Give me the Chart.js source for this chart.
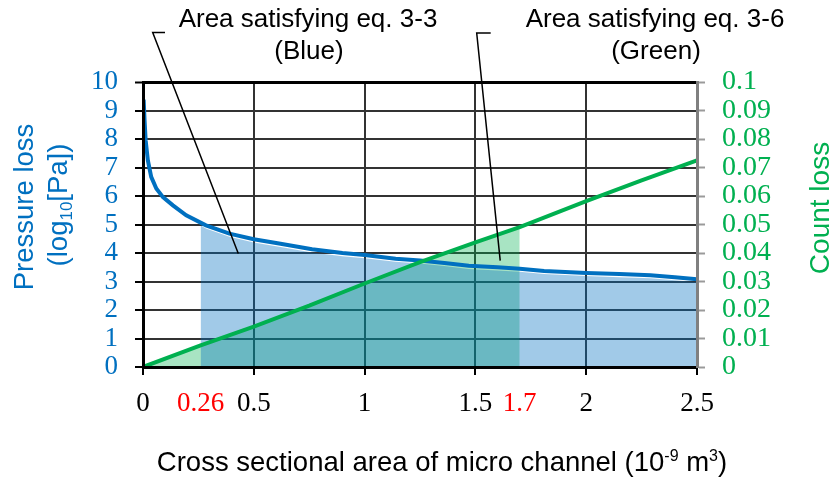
<!DOCTYPE html>
<html>
<head>
<meta charset="utf-8">
<script src="https://cdn.jsdelivr.net/npm/chart.js@4.4.1/dist/chart.umd.min.js"></script>
<style>
  html, body { margin: 0; padding: 0; background: #fff; }
  #wrap { width: 835px; height: 480px; position: relative; }
</style>
</head>
<body>
<div id="wrap"><canvas id="c" width="835" height="480"></canvas></div>
<script>
// Pressure loss (log10 Pa) against cross sectional area (1e-9 m^3)
const pressureX = [0.003, 0.007, 0.012, 0.022, 0.037, 0.06, 0.09, 0.135, 0.195, 0.284, 0.39, 0.5, 0.614, 0.763, 0.9, 1.0, 1.14, 1.25, 1.36, 1.47, 1.6, 1.7, 1.81, 2.0, 2.15, 2.29, 2.4, 2.5];
const pressureY = [9.38, 8.66, 7.95, 7.25, 6.67, 6.26, 5.96, 5.67, 5.32, 4.97, 4.68, 4.48, 4.33, 4.13, 4.0, 3.93, 3.80, 3.74, 3.65, 3.55, 3.50, 3.45, 3.37, 3.30, 3.26, 3.22, 3.15, 3.08];

// Region satisfying eq. 3-3 (0.26 to 2.5), upper edge of the shaded area
const blueAreaX = [0.26, 0.284, 0.39, 0.5, 0.614, 0.763, 0.9, 1.0, 1.14, 1.25, 1.36, 1.47, 1.6, 1.7, 1.81, 2.0, 2.15, 2.29, 2.4, 2.5];
const blueAreaY = [4.97, 4.86, 4.57, 4.37, 4.22, 4.02, 3.89, 3.82, 3.69, 3.63, 3.54, 3.44, 3.39, 3.34, 3.26, 3.19, 3.15, 3.11, 3.04, 2.98];

// Count loss against cross sectional area
const countX = [0, 0.26, 0.5, 0.75, 1.0, 1.25, 1.5, 1.7, 2.0, 2.25, 2.5];
const countY = [0, 0.0076, 0.0142, 0.0215, 0.0293, 0.0368, 0.0437, 0.0491, 0.0582, 0.0655, 0.0725];

// Region satisfying eq. 3-6 (0 to 1.7)
const greenAreaX = [0, 0.26, 0.5, 0.75, 1.0, 1.25, 1.5, 1.7];
const greenAreaY = [0, 0.0076, 0.0142, 0.0215, 0.0293, 0.0368, 0.0437, 0.0491];

// Tick labels
const xTicks = [0, 0.26, 0.5, 1, 1.5, 1.7, 2, 2.5];
const xMarked = [0.26, 1.7];
const pressureTicks = [0, 1, 2, 3, 4, 5, 6, 7, 8, 9, 10];
const countTicks = [0, 0.01, 0.02, 0.03, 0.04, 0.05, 0.06, 0.07, 0.08, 0.09, 0.1];

const BLUE = '#0070C0';
const GREEN = '#00B050';
const SERIF = '"Liberation Serif", "Times New Roman", serif';
const SANS = '"Liberation Sans", Arial, sans-serif';

const pts = (xs, ys) => xs.map((x, i) => ({ x: x, y: ys[i] }));
const isMarked = v => xMarked.some(m => Math.abs(m - v) < 1e-9);

// Axis titles and callouts drawn on the canvas
const decorations = {
  id: 'decorations',
  afterDraw(chart) {
    const ctx = chart.ctx;
    const xs = chart.scales.x;
    const y1 = chart.scales.y;
    ctx.save();

    // callout texts
    ctx.fillStyle = '#000';
    ctx.font = '26px ' + SANS;
    ctx.textAlign = 'center';
    ctx.textBaseline = 'alphabetic';
    ctx.fillText('Area satisfying eq. 3-3', 308, 27);
    ctx.fillText('(Blue)', 309, 59);
    ctx.fillText('Area satisfying eq. 3-6', 655, 27);
    ctx.fillText('(Green)', 656, 59);

    // leader lines into the shaded areas
    ctx.strokeStyle = '#000';
    ctx.lineWidth = 1.5;
    ctx.beginPath();
    ctx.moveTo(165, 32.5);
    ctx.lineTo(152.7, 32.5);
    ctx.lineTo(xs.getPixelForValue(0.43), y1.getPixelForValue(3.98));
    ctx.stroke();
    ctx.beginPath();
    ctx.moveTo(490.7, 33);
    ctx.lineTo(476.7, 33);
    ctx.lineTo(xs.getPixelForValue(1.612), y1.getPixelForValue(3.73));
    ctx.stroke();

    // x axis title with superscripts
    const parts = [
      ['Cross sectional area of micro channel (10', false],
      ['-9', true],
      [' m', false],
      ['3', true],
      [')', false]
    ];
    const big = '27.5px ' + SANS, small = '16px ' + SANS;
    let total = 0;
    parts.forEach(p => { ctx.font = p[1] ? small : big; total += ctx.measureText(p[0]).width; });
    let cx = 442 - total / 2;
    ctx.textAlign = 'left';
    parts.forEach(p => {
      ctx.font = p[1] ? small : big;
      ctx.fillText(p[0], cx, p[1] ? 461 : 471);
      cx += ctx.measureText(p[0]).width;
    });

    // left axis title (rotated)
    ctx.save();
    ctx.translate(33, 207);
    ctx.rotate(-Math.PI / 2);
    ctx.fillStyle = BLUE;
    ctx.font = '27.5px ' + SANS;
    ctx.textAlign = 'center';
    ctx.fillText('Pressure loss', 0, 0);
    ctx.restore();

    ctx.save();
    ctx.translate(67, 205);
    ctx.rotate(-Math.PI / 2);
    ctx.fillStyle = BLUE;
    const seg = [['(log', false], ['10', true], ['[Pa])', false]];
    const b2 = '27.5px ' + SANS, s2 = '17px ' + SANS;
    let w2 = 0;
    seg.forEach(p => { ctx.font = p[1] ? s2 : b2; w2 += ctx.measureText(p[0]).width; });
    let px = -w2 / 2;
    ctx.textAlign = 'left';
    seg.forEach(p => {
      ctx.font = p[1] ? s2 : b2;
      ctx.fillText(p[0], px, p[1] ? 5 : 0);
      px += ctx.measureText(p[0]).width;
    });
    ctx.restore();

    // right axis title (rotated)
    ctx.save();
    ctx.translate(829, 208);
    ctx.rotate(-Math.PI / 2);
    ctx.fillStyle = GREEN;
    ctx.font = '28px ' + SANS;
    ctx.textAlign = 'center';
    ctx.fillText('Count loss', 0, 0);
    ctx.restore();

    ctx.restore();
  }
};

new Chart(document.getElementById('c'), {
  type: 'line',
  data: {
    datasets: [
      {
        label: 'eq. 3-6 area',
        data: pts(greenAreaX, greenAreaY),
        yAxisID: 'y2',
        borderWidth: 0,
        borderColor: 'rgba(0,0,0,0)',
        backgroundColor: 'rgba(0,176,80,0.34)',
        fill: 'origin',
        pointRadius: 0,
        order: 4
      },
      {
        label: 'eq. 3-3 area',
        data: pts(blueAreaX, blueAreaY),
        yAxisID: 'y',
        borderWidth: 0,
        borderColor: 'rgba(0,0,0,0)',
        backgroundColor: 'rgba(0,112,192,0.37)',
        fill: 'origin',
        pointRadius: 0,
        order: 3
      },
      {
        label: 'Pressure loss',
        data: pts(pressureX, pressureY),
        yAxisID: 'y',
        borderColor: BLUE,
        borderWidth: 4,
        fill: false,
        pointRadius: 0,
        tension: 0,
        order: 2
      },
      {
        label: 'Count loss',
        data: pts(countX, countY),
        yAxisID: 'y2',
        borderColor: GREEN,
        borderWidth: 4,
        fill: false,
        pointRadius: 0,
        tension: 0,
        order: 1
      }
    ]
  },
  options: {
    responsive: false,
    animation: false,
    devicePixelRatio: 1,
    layout: { padding: { top: 82, left: 0, right: 0, bottom: 0 } },
    plugins: { legend: { display: false }, tooltip: { enabled: false } },
    scales: {
      x: {
        type: 'linear',
        min: 0,
        max: 2.5,
        afterFit: s => { s.height = 113; },
        afterBuildTicks: s => { s.ticks = xTicks.map(v => ({ value: v })); },
        border: { display: true, color: '#000', width: 3, z: 1 },
        grid: {
          color: c => (isMarked(c.tick.value) || c.tick.value === 0 || c.tick.value === 2.5) ? 'rgba(0,0,0,0)' : '#333',
          lineWidth: 2,
          tickColor: c => isMarked(c.tick.value) ? 'rgba(0,0,0,0)' : '#000',
          tickLength: 8,
          tickWidth: 2
        },
        ticks: {
          autoSkip: false,
          maxRotation: 0,
          padding: 13,
          font: { family: SERIF, size: 27 },
          color: c => isMarked(c.tick.value) ? '#FF0000' : '#000',
          callback: v => String(v)
        }
      },
      y: {
        type: 'linear',
        position: 'left',
        min: 0,
        max: 10,
        afterFit: s => { s.width = 143; },
        afterBuildTicks: s => { s.ticks = pressureTicks.map(v => ({ value: v })); },
        border: { display: true, color: '#000', width: 3, z: 1 },
        grid: {
          color: c => c.tick.value === 10 ? '#000' : '#333',
          lineWidth: c => c.tick.value === 10 ? 3 : 2,
          tickColor: '#000',
          tickLength: 8,
          tickWidth: 2
        },
        ticks: {
          autoSkip: false,
          padding: 17,
          font: { family: SERIF, size: 27 },
          color: BLUE,
          callback: v => String(v)
        }
      },
      y2: {
        type: 'linear',
        position: 'right',
        min: 0,
        max: 0.1,
        afterFit: s => { s.width = 138; },
        afterBuildTicks: s => { s.ticks = countTicks.map(v => ({ value: v })); },
        border: { display: true, color: '#808080', width: 3, z: 1 },
        grid: {
          drawOnChartArea: false,
          tickColor: '#9a9a9a',
          tickLength: 8,
          tickWidth: 2
        },
        ticks: {
          autoSkip: false,
          padding: 17,
          font: { family: SERIF, size: 28 },
          color: GREEN,
          callback: v => v === 0 ? '0' : String(Math.round(v * 100) / 100)
        }
      }
    }
  },
  plugins: [decorations]
});
</script>
</body>
</html>
